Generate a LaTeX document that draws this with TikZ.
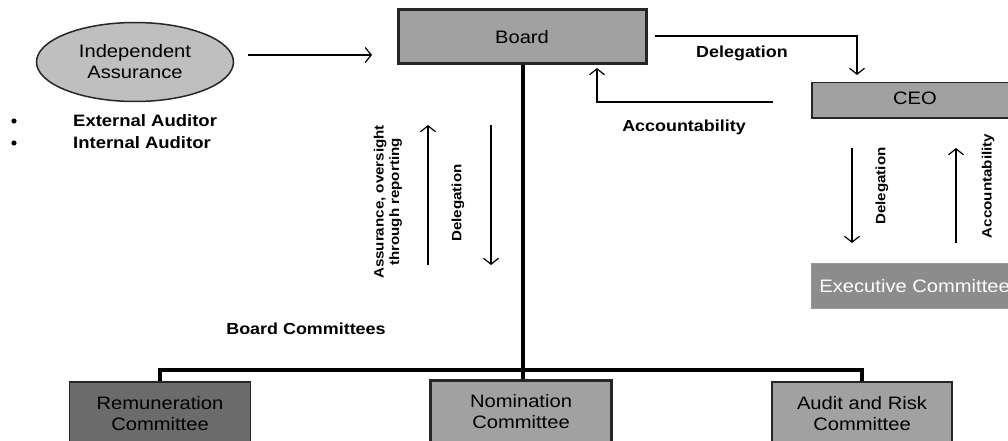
\documentclass[tikz,border=0pt]{standalone}
\usepackage{fontspec}
\setmainfont[FakeStretch=1.12]{Liberation Sans}
\usetikzlibrary{shapes,arrows.meta,positioning}

\begin{document}
\begin{tikzpicture}[x=1pt,y=-1pt]
                                         \def\MCOL{black!37}
                                         \def\DCOL{black!58}
                                         \def\ECOL{black!45}
                                         \tikzstyle{box} = [draw=black!85,fill=\MCOL,line width=1.5pt,inner sep=0pt,align=center,font=\fontsize{18}{21}\selectfont]
                                         \tikzstyle{lbl} = [inner sep=0pt,align=center,font=\bfseries\fontsize{16}{19}\selectfont]
                                         \tikzstyle{vlbl} = [lbl,rotate=90,font=\bfseries\fontsize{13.5}{15.5}\selectfont]
                                         \tikzstyle{flow} = [line width=1.2pt,-{Straight Barb[length=6pt,width=15pt]}]
                                         \tikzstyle{bus} = [line width=3.5pt]
                                         \useasboundingbox (0,0) rectangle (1008,441);

                                         % top row
                                         \node[box,ellipse,fill=black!25,minimum width=197,minimum height=79] (IA) at (135,62) {Independent\\Assurance};
                                         \node[box,line width=3pt,minimum width=248,minimum height=54] (Board) at (522,37) {Board};
                                         \node[box,anchor=north west,minimum width=220,minimum height=35] (CEO) at (811,82) {};
                                         \node[inner sep=0pt,font=\fontsize{18}{21}\selectfont] (CEOt) at (915,98) {CEO};
                                         \node[box,draw=black!40,line width=0.8pt,fill=\ECOL,text=white,anchor=west,minimum height=45,inner xsep=8pt] (EC) at (811,286) {Executive Committee};

                                         \node[lbl,anchor=west,font=\bfseries\fontsize{16.5}{19}\selectfont] (EA) at (73,121) {External Auditor};
                                         \node[lbl,anchor=west,font=\bfseries\fontsize{16.5}{19}\selectfont] (IAu) at (73,143) {Internal Auditor};
                                         \fill (14,121) circle (2.6);
                                         \fill (14,143) circle (2.6);

                                         \coordinate (IAend) at (248,55);
                                         \coordinate (Btip) at (372,55);
                                         \draw[flow] (IAend) -- (Btip);

                                         % board to ceo
                                         \coordinate (D1) at (655,36);
                                         \coordinate (D2) at (857,75);
                                         \draw[flow] (D1) -| (D2);
                                         \node[lbl] (DL1) at (742,53) {Delegation};
                                         \coordinate (A1) at (773,102);
                                         \coordinate (A2) at (597,68);
                                         \draw[flow] (A1) -| (A2);
                                         \node[lbl] (AL1) at (684,127) {Accountability};

                                         % ceo to executive committee
                                         \coordinate (C1) at (852,148);
                                         \coordinate (C2) at (852,243);
                                         \draw[flow] (C1) -- (C2);
                                         \node[vlbl] (DL2) at (882,186) {Delegation};
                                         \coordinate (C3) at (956,243);
                                         \coordinate (C4) at (956,148);
                                         \draw[flow] (C3) -- (C4);
                                         \node[vlbl] (AL2) at (988,186) {Accountability};

                                         % board to committees
                                         \coordinate (B1) at (428,265);
                                         \coordinate (B2) at (428,125);
                                         \draw[flow] (B1) -- (B2);
                                         \node[vlbl] (AS) at (388,202) {Assurance, oversight\\through reporting};
                                         \coordinate (B3) at (491,125);
                                         \coordinate (B4) at (491,265);
                                         \draw[flow] (B3) -- (B4);
                                         \node[vlbl] (DL3) at (458,203) {Delegation};

                                         \node[lbl] (BC) at (306,329) {Board Committees};

                                         \node[box,fill=\DCOL,minimum width=181,minimum height=64] (Rem) at (160,414) {Remuneration\\Committee};
                                         \node[box,line width=3pt,minimum width=181,minimum height=64] (Nom) at (521,412) {Nomination\\Committee};
                                         \node[box,minimum width=180,minimum height=64] (Aud) at (862,414) {Audit and Risk\\Committee};

                                         \coordinate (Bus) at (523,370);
                                         \draw[bus] (Board.south -| Bus) -- (Nom.north -| Bus);
                                         \draw[bus] (Rem.north) |- (Bus) -| (Aud.north);

                                       \end{tikzpicture}
\end{document}
